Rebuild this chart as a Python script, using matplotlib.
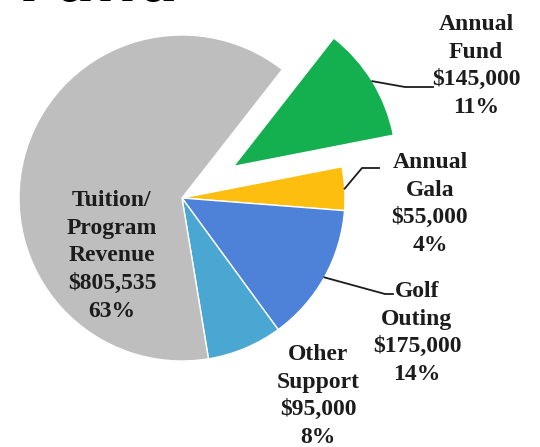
import numpy as np
import matplotlib
matplotlib.use("Agg")
import matplotlib.pyplot as plt

# revenue sources, clockwise from the exploded slice
labels = ["Annual\nFund", "Annual\nGala", "Golf\nOuting", "Other\nSupport", "Tuition/\nProgram\nRevenue"]
amounts = [145000, 55000, 175000, 95000, 805535]
percents = ["11%", "4%", "14%", "8%", "63%"]
colors = ["#14AF4E", "#FDBE10", "#4D82D8", "#4AA7D2", "#BEBEBE"]

W, H = 540, 447
fig = plt.figure(figsize=(5.4, 4.47), dpi=100)
ax = fig.add_axes([0, 0, 1, 1])

cx, cy, R = 182, H - 198, 163
explode = [0.37 * R, 0, 0, 0, 0]  # pie takes the offset in data units
wedges, _ = ax.pie(amounts, colors=colors, explode=explode, startangle=52,
                   counterclock=False, center=(cx, cy), radius=R,
                   wedgeprops=dict(edgecolor="white", linewidth=1.0), frame=True)
ax.set_xlim(0, W)
ax.set_ylim(0, H)
ax.set_aspect("equal")
ax.axis("off")

# cut-off title at the top
ax.text(18, H - 1.5, "Fund", fontsize=42, fontweight="bold", family="DejaVu Sans",
        color="black", ha="left", va="baseline")

font = dict(family="Liberation Serif", fontweight="bold", fontsize=17,
            color="#1c1c1c", ha="center", va="center", linespacing=1.42)

def label_text(i):
    return "{}\n${:,}\n{}".format(labels[i], amounts[i], percents[i])

# label positions (px from top-left)
label_pos = {0: (476, 66), 1: (430, 204), 2: (417, 333), 3: (318, 396), 4: (112, 256)}
for i, (x, y) in label_pos.items():
    ax.text(x, H - y, label_text(i), **font)

# leader lines: start on the arc at mid-angle of each wedge
elbows = {0: [(405, 87), (433, 87)], 1: [(362, 168), (379, 168)], 2: [(385, 294), (393, 294)]}
for i, pts in elbows.items():
    w = wedges[i]
    mid = np.deg2rad((w.theta1 + w.theta2) / 2)
    x0 = w.center[0] + w.r * np.cos(mid)
    y0 = w.center[1] + w.r * np.sin(mid)
    xs = [x0] + [p[0] for p in pts]
    ys = [y0] + [H - p[1] for p in pts]
    ax.plot(xs, ys, color="#1c1c1c", linewidth=1.3)

fig.savefig("out.png", dpi=100)
